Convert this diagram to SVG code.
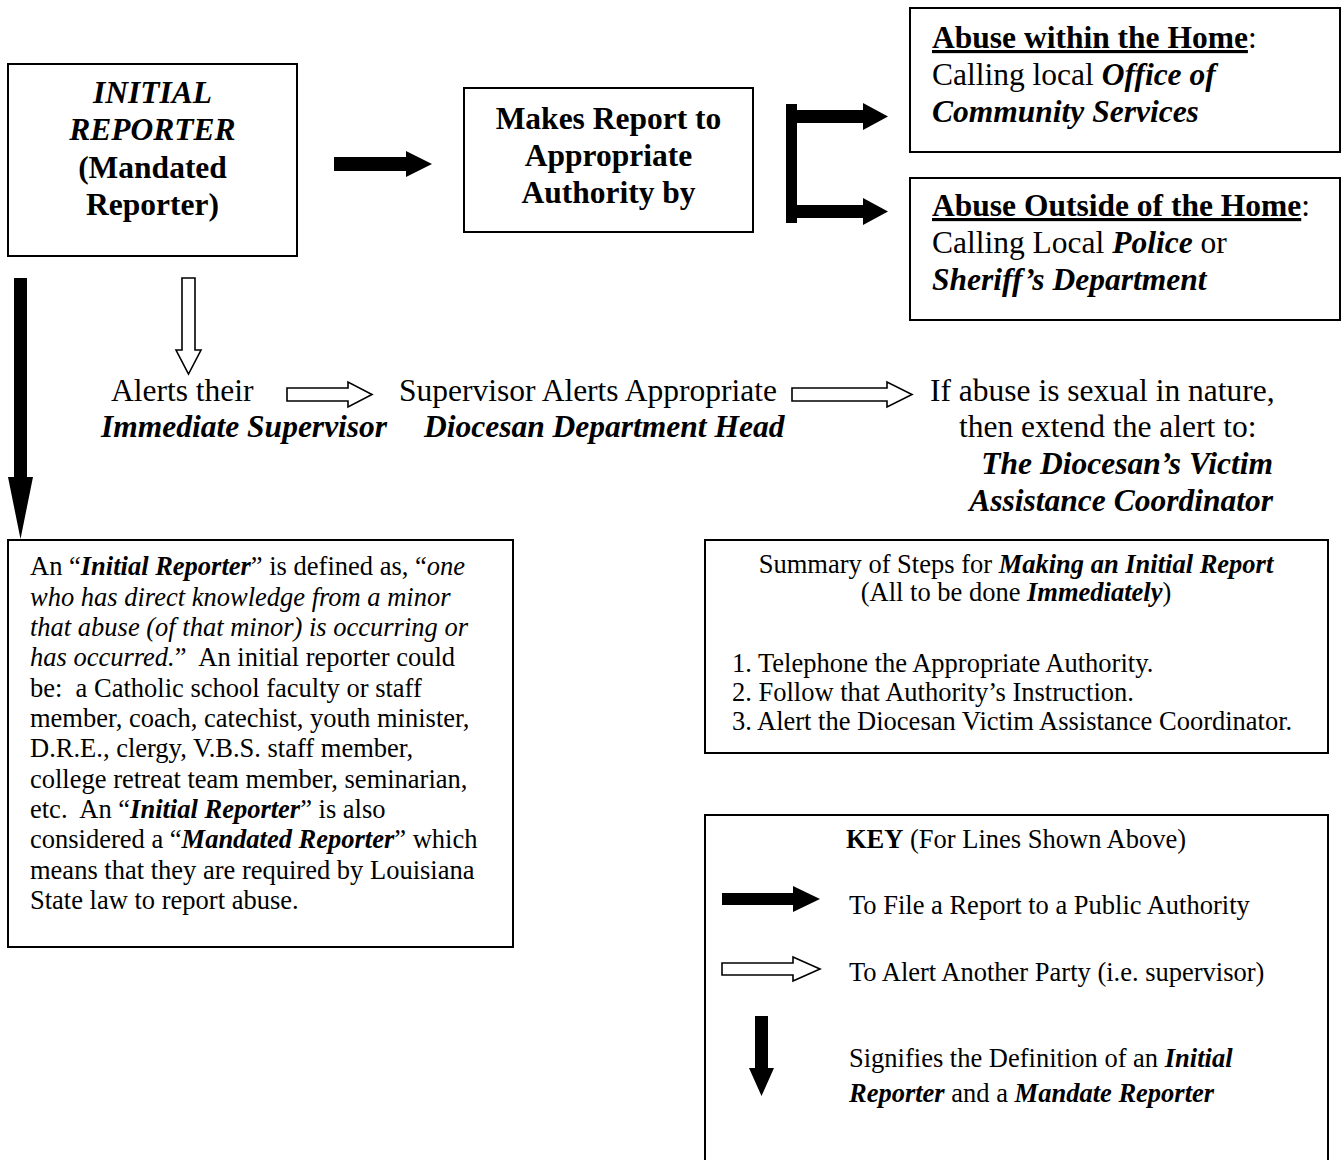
<svg xmlns="http://www.w3.org/2000/svg" width="1344" height="1160" viewBox="0 0 1344 1160">
<style>
.box{fill:#fff;stroke:#000;stroke-width:2}
.solid{fill:#000;stroke:none}
.hollow{fill:#fff;stroke:#000;stroke-width:1.6;stroke-linejoin:miter}
text{font-family:"Liberation Serif","Times New Roman",serif;fill:#000}
.big{font-size:31.5px}
.sm{font-size:26.5px}
.b{font-weight:bold}
.i{font-style:italic}
.bi{font-weight:bold;font-style:italic}
.u{text-decoration:underline}
</style>
<rect width="1344" height="1160" fill="#fff"/>

<g id="connectors">
  <polygon class="solid" points="334,157 406,157 406,151 432,164 406,177 406,171 334,171"/>
  <polygon class="solid" points="786,104 797,104 797,110 863,110 863,103 888,116.5 863,130 863,123 797,123 797,205 863,205 863,198 888,211.5 863,225 863,218 797,218 797,223 786,223"/>
  <polygon class="solid" points="14,278 27,278 27,477 33,477 20.5,539 8,477 14,477"/>
  <polygon class="hollow" points="182,278 195,278 195,350 201,350 188.5,374 176,350 182,350"/>
  <polygon class="hollow" points="287,388 348,388 348,382 372,394.5 348,407 348,401 287,401"/>
  <polygon class="hollow" points="792,388 887,388 887,382 912,394.5 887,407 887,401 792,401"/>
</g>

<g id="initial-reporter">
  <rect class="box" x="8" y="64" width="289" height="192"/>
  <text class="big bi" x="152.5" y="103" text-anchor="middle">INITIAL</text>
  <text class="big bi" x="152.5" y="140" text-anchor="middle">REPORTER</text>
  <text class="big b" x="152.5" y="178" text-anchor="middle">(Mandated</text>
  <text class="big b" x="152.5" y="215" text-anchor="middle">Reporter)</text>
</g>

<g id="makes-report">
  <rect class="box" x="464" y="88" width="289" height="144"/>
  <text class="big b" x="608.5" y="129" text-anchor="middle">Makes Report to</text>
  <text class="big b" x="608.5" y="166" text-anchor="middle">Appropriate</text>
  <text class="big b" x="608.5" y="203" text-anchor="middle">Authority by</text>
</g>

<g id="abuse-within-home">
  <rect class="box" x="910" y="8" width="430" height="144"/>
  <text class="big" x="932" y="48"><tspan class="b u">Abuse within the Home</tspan>:</text>
  <text class="big" x="932" y="85">Calling local <tspan class="bi">Office of</tspan></text>
  <text class="big bi" x="932" y="122">Community Services</text>
</g>

<g id="abuse-outside-home">
  <rect class="box" x="910" y="178" width="430" height="142"/>
  <text class="big" x="932" y="216"><tspan class="b u">Abuse Outside of the Home</tspan>:</text>
  <text class="big" x="932" y="253">Calling Local <tspan class="bi">Police</tspan> or</text>
  <text class="big bi" x="932" y="290">Sheriff’s Department</text>
</g>

<g id="alerts-supervisor">
  <text class="big" x="111" y="401">Alerts their</text>
  <text class="big bi" x="101" y="437">Immediate Supervisor</text>
</g>

<g id="supervisor-alerts">
  <text class="big" x="399" y="401">Supervisor Alerts Appropriate</text>
  <text class="big bi" x="424" y="437">Diocesan Department Head</text>
</g>

<g id="sexual-abuse">
  <text class="big" x="930" y="401">If abuse is sexual in nature,</text>
  <text class="big" x="959" y="437">then extend the alert to:</text>
  <text class="big bi" x="1273" y="474" text-anchor="end">The Diocesan’s Victim</text>
  <text class="big bi" x="1273" y="511" text-anchor="end">Assistance Coordinator</text>
</g>

<g id="definition">
  <rect class="box" x="8" y="540" width="505" height="407"/>
  <text class="sm" x="30" y="575" xml:space="preserve">An “<tspan class="bi">Initial Reporter</tspan>” is defined as, “<tspan class="i">one</tspan></text>
  <text class="sm i" x="30" y="605.5">who has direct knowledge from a minor</text>
  <text class="sm i" x="30" y="636">that abuse (of that minor) is occurring or</text>
  <text class="sm" x="30" y="666" xml:space="preserve"><tspan class="i">has occurred.</tspan>”  An initial reporter could</text>
  <text class="sm" x="30" y="696.5" xml:space="preserve">be:  a Catholic school faculty or staff</text>
  <text class="sm" x="30" y="727">member, coach, catechist, youth minister,</text>
  <text class="sm" x="30" y="757">D.R.E., clergy, V.B.S. staff member,</text>
  <text class="sm" x="30" y="787.5">college retreat team member, seminarian,</text>
  <text class="sm" x="30" y="818" xml:space="preserve">etc.  An “<tspan class="bi">Initial Reporter</tspan>” is also</text>
  <text class="sm" x="30" y="848">considered a “<tspan class="bi">Mandated Reporter</tspan>” which</text>
  <text class="sm" x="30" y="878.5">means that they are required by Louisiana</text>
  <text class="sm" x="30" y="909">State law to report abuse.</text>
</g>

<g id="summary">
  <rect class="box" x="705" y="540" width="623" height="213"/>
  <text class="sm" x="1016" y="573" text-anchor="middle">Summary of Steps for <tspan class="bi">Making an Initial Report</tspan></text>
  <text class="sm" x="1016" y="601" text-anchor="middle">(All to be done <tspan class="bi">Immediately</tspan>)</text>
  <text class="sm" x="732" y="672">1. Telephone the Appropriate Authority.</text>
  <text class="sm" x="732" y="701">2. Follow that Authority’s Instruction.</text>
  <text class="sm" x="732" y="730">3. Alert the Diocesan Victim Assistance Coordinator.</text>
</g>

<g id="key">
  <rect class="box" x="705" y="815" width="623" height="360"/>
  <text class="sm" x="1016" y="848" text-anchor="middle"><tspan class="b">KEY</tspan> (For Lines Shown Above)</text>
  <polygon class="solid" points="722,893 793,893 793,886 820,899 793,912 793,905 722,905"/>
  <text class="sm" x="849" y="914">To File a Report to a Public Authority</text>
  <polygon class="hollow" points="722,963 793,963 793,957 820,969 793,981 793,975 722,975"/>
  <text class="sm" x="849" y="981">To Alert Another Party (i.e. supervisor)</text>
  <polygon class="solid" points="755,1016 768,1016 768,1068 774,1068 761.5,1096 749,1068 755,1068"/>
  <text class="sm" x="849" y="1067">Signifies the Definition of an <tspan class="bi">Initial</tspan></text>
  <text class="sm" x="849" y="1102"><tspan class="bi">Reporter</tspan> and a <tspan class="bi">Mandate Reporter</tspan></text>
</g>
</svg>
